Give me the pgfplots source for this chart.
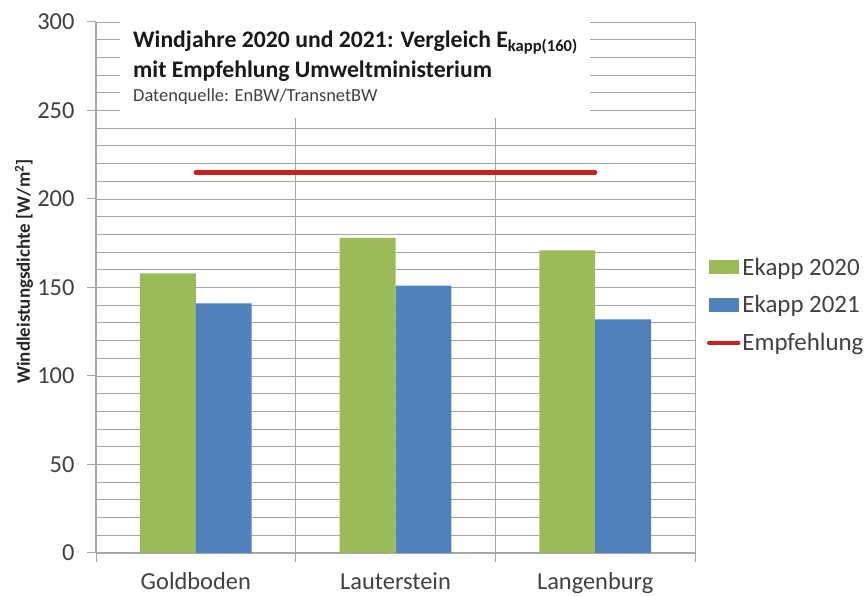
\documentclass[border=0pt]{standalone}
\usepackage{pgfplots}
\pgfplotsset{compat=1.18}
\usepackage{fontspec}
\setmainfont{Carlito}
\definecolor{cgreen}{HTML}{9BBB59}
\definecolor{cblue}{HTML}{4F81BD}
\definecolor{cred}{HTML}{CC1F1F}
\definecolor{cgrid}{HTML}{A6A6A6}
\definecolor{ctext}{HTML}{404040}
\begin{document}
\begin{tikzpicture}[x=1bp,y=1bp]
\path[use as bounding box] (0,0) rectangle (865,596);
\begin{axis}[
  at={(96bp,43bp)}, anchor=south west,
  width=599bp, height=531bp, scale only axis,
  xmin=-0.5, xmax=2.5, ymin=0, ymax=300,
  axis lines*=left,
  axis line style={draw=cgrid, line width=1.2pt},
  ytick={0,50,...,300},
  minor y tick num=4,
  ymajorgrids, yminorgrids, xmajorgrids,
  grid style={draw=cgrid, line width=0.9pt},
  minor grid style={draw=cgrid, line width=0.9pt},
  major tick style={draw=cgrid, line width=1pt},
  minor tick length=0pt,
  major tick length=9bp,
  tick align=outside,
  xtick={-0.5,0.5,1.5,2.5}, xticklabels={},
  extra x ticks={0,1,2},
  extra x tick labels={Goldboden,Lauterstein,Langenburg},
  extra x tick style={grid=none, major tick length=0pt, tick label style={yshift=-16bp}},
  tick label style={font=\fontsize{24.5}{28}\selectfont, text=ctext},
  yticklabel style={xshift=-9bp},
  /pgf/number format/assume math mode=true,
  ylabel={\textbf{Windleistungsdichte [W/m\textsuperscript{2}]}},
  ylabel style={at={(rel axis cs:-0.12,0.53)}, anchor=center, font=\fontsize{19}{22}\selectfont, text=black!85},
  legend style={at={(1.02,0.467)}, anchor=west, draw=none, fill=none,
    font=\fontsize{25}{29}\selectfont, text=ctext, row sep=15bp,
    inner sep=0pt, outer sep=0pt, /tikz/every even column/.append style={column sep=3bp}},
  legend cell align=left,
]
\addplot[ybar, bar width=0.28, bar shift=-0.14, fill=cgreen, draw=none,
  legend image code/.code={\fill[cgreen] (0bp,-7bp) rectangle (30bp,7bp);}]
  coordinates {(0,158) (1,178) (2,171)};
\addlegendentry{Ekapp 2020}
\addplot[ybar, bar width=0.28, bar shift=0.14, fill=cblue, draw=none,
  legend image code/.code={\fill[cblue] (0bp,-7bp) rectangle (30bp,7bp);}]
  coordinates {(0,141) (1,151) (2,132)};
\addlegendentry{Ekapp 2021}
\addplot[sharp plot, draw=cred, line width=4.5bp, line cap=round, mark=none,
  legend image code/.code={\draw[cred, line width=3.5bp] (0bp,0bp) -- (30bp,0bp);}]
  coordinates {(0,215) (1,215) (2,215)};
\addlegendentry{Empfehlung}
\end{axis}
\fill[white] (120,478) rectangle (590,581);
\node[anchor=base west, inner sep=0pt, font=\fontsize{23.8}{27}\selectfont\bfseries, text=black!90] at (133,548) {Windjahre 2020 und 2021: Vergleich E\textsubscript{kapp(160)}};
\node[anchor=base west, inner sep=0pt, font=\fontsize{23.8}{27}\selectfont\bfseries, text=black!90] at (133,518) {mit Empfehlung Umweltministerium};
\node[anchor=base west, inner sep=0pt, font=\fontsize{18.5}{22}\selectfont, text=ctext] at (133,494) {Datenquelle: EnBW/TransnetBW};
\end{tikzpicture}
\end{document}
